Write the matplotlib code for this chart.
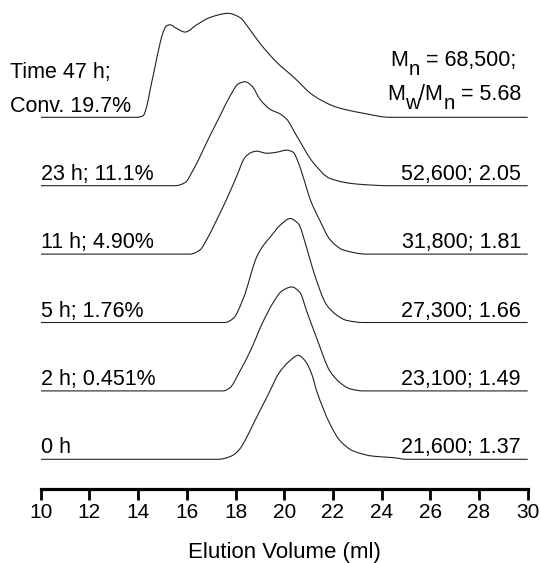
import matplotlib
matplotlib.use("Agg")
import matplotlib.pyplot as plt
import matplotlib.transforms as mtransforms
from matplotlib.path import Path
from matplotlib.patches import PathPatch
import numpy as np

plt.rcParams['font.family'] = ['Liberation Sans', 'DejaVu Sans']

# Elution volume (ml) and relative detector response (% of peak) for each trace
vol_0h = [10, 17.30, 17.57, 17.90, 18.18, 18.39, 18.73, 19.01, 19.42, 19.76, 20.24, 20.58, 20.85, 21.13, 21.33, 21.88, 22.29, 22.84, 23.66, 24.48, 25.03, 30]
sig_0h = [0, 0, 1, 4, 10, 18, 34, 47, 66, 82, 95, 100, 95, 82, 66, 34, 18, 8, 3, 1.6, 0, 0]

vol_2h = [10, 17.50, 17.77, 18.18, 18.60, 19.14, 19.55, 19.90, 20.31, 20.65, 20.92, 21.33, 21.88, 22.29, 22.70, 23.25, 30]
sig_2h = [0, 0, 3, 19, 38, 67, 85, 96, 100, 94.5, 77, 51, 19, 8, 2, 0, 0]

vol_5h = [10, 17.57, 17.91, 18.32, 18.87, 19.14, 19.42, 19.83, 20.24, 20.58, 20.92, 21.20, 21.74, 22.16, 22.57, 23.25, 30]
sig_5h = [0, 0, 4, 23, 63, 74, 82, 93.5, 100, 95, 72, 49.5, 17, 7, 2, 0, 0]

vol_11h = [10, 16.13, 16.54, 16.82, 17.23, 17.64, 18.05, 18.39, 18.67, 18.87, 19.28, 19.69, 20.10, 20.37, 20.58, 20.85, 21.06, 21.47, 21.88, 22.43, 23.39, 30]
sig_11h = [0, 0, 4, 14, 33, 53, 75, 93, 98, 99, 97, 98, 100, 98, 88, 69, 53, 32, 14, 4, 0, 0]

vol_23h = [10, 15.52, 15.93, 16.27, 16.95, 17.36, 17.77, 18.12, 18.39, 18.67, 19.01, 19.42, 19.83, 20.10, 20.51, 21.20, 21.88, 22.98, 24.34, 30]
sig_23h = [0, 0, 3, 15.5, 48, 67, 86, 98, 100, 96, 83, 73.5, 69, 64, 48, 22, 7, 1.6, 0, 0]

vol_47h = [10, 13.94, 14.21, 14.35, 14.49, 14.69, 14.90, 15.03, 15.17, 15.31, 15.58, 15.93, 16.41, 16.95, 17.70, 18.18, 18.60, 19.01, 19.69, 20.37, 21.20, 22.16, 23.25, 24.34, 30]
sig_47h = [0, 0, 1.6, 10, 26, 48, 71, 82, 88, 89, 85.5, 82, 89, 96, 100, 96, 84, 71, 53, 39, 21, 9.7, 3.9, 0, 0]

left_labels = ["0 h", "2 h; 0.451%", "5 h; 1.76%", "11 h; 4.90%", "23 h; 11.1%"]
right_labels = ["21,600; 1.37", "23,100; 1.49", "27,300; 1.66", "31,800; 1.81", "52,600; 2.05"]
top_left = ["Time 47 h;", "Conv. 19.7%"]
# (text, is_subscript) pieces
top_right_1 = [("M", False), ("n", True), (" = 68,500;", False)]
top_right_2 = [("M", False), ("w", True), ("/M", False), ("n", True), (" = 5.68", False)]

x_ticks = [10, 12, 14, 16, 18, 20, 22, 24, 26, 28, 30]
x_label = "Elution Volume (ml)"

traces = [(vol_0h, sig_0h), (vol_2h, sig_2h), (vol_5h, sig_5h),
          (vol_11h, sig_11h), (vol_23h, sig_23h), (vol_47h, sig_47h)]

W, H = 541, 563
fig = plt.figure(figsize=(W / 100, H / 100), dpi=100)
ax_bottom = 73.7 / H
ax = fig.add_axes([40.7 / W, ax_bottom, 487.0 / W, 1 - ax_bottom])
ax.set_xlim(10, 30)
ax.set_ylim(-0.4385, 6.715)


def pchip_slopes(x, y):
    x = np.asarray(x, float)
    y = np.asarray(y, float)
    h = np.diff(x)
    d = np.diff(y) / h
    m = np.zeros_like(y)
    for k in range(1, len(x) - 1):
        if d[k - 1] * d[k] > 0:
            w1 = 2 * h[k] + h[k - 1]
            w2 = h[k] + 2 * h[k - 1]
            m[k] = (w1 + w2) / (w1 / d[k - 1] + w2 / d[k])
    return m


def smooth_path(x, y):
    x = np.asarray(x, float)
    y = np.asarray(y, float)
    m = pchip_slopes(x, y)
    verts = [(x[0], y[0])]
    codes = [Path.MOVETO]
    for i in range(len(x) - 1):
        h = x[i + 1] - x[i]
        verts += [(x[i] + h / 3, y[i] + m[i] * h / 3),
                  (x[i + 1] - h / 3, y[i + 1] - m[i + 1] * h / 3),
                  (x[i + 1], y[i + 1])]
        codes += [Path.CURVE4] * 3
    return Path(verts, codes)


scale = 1.52 / 100.0
for i, (v, s) in enumerate(traces):
    yy = [i + val * scale for val in s]
    ax.add_patch(PathPatch(smooth_path(v, yy), fill=False, edgecolor='#222222',
                           lw=0.8, transform=ax.transData))

fs = 15.5
dy = 0.085
for i, (lt, rt) in enumerate(zip(left_labels, right_labels)):
    ax.text(10, i + dy, lt, ha='left', va='baseline', fontsize=fs)
    ax.text(29.72, i + dy, rt, ha='right', va='baseline', fontsize=fs)

ax.text(8.72, 5 + 0.57, top_left[0], ha='left', va='baseline', fontsize=fs)
ax.text(8.72, 5 + 0.073, top_left[1], ha='left', va='baseline', fontsize=fs)

renderer = fig.canvas.get_renderer()


def right_composite(x_right, y, pieces, size, sub_size, sub_drop_pts):
    texts = []
    widths = []
    for s, sub in pieces:
        t = ax.text(x_right, y, s, ha='left', va='baseline',
                    fontsize=sub_size if sub else size)
        widths.append(t.get_window_extent(renderer).width / fig.dpi)
        texts.append((t, sub))
    total = sum(widths)
    off = -total
    for (t, sub), w in zip(texts, widths):
        dyin = -sub_drop_pts / 72.0 if sub else 0.0
        t.set_transform(ax.transData + mtransforms.ScaledTranslation(off, dyin, fig.dpi_scale_trans))
        off += w


right_composite(29.52, 5 + 0.745, top_right_1, fs, fs * 0.95, 6.0)
right_composite(29.72, 5 + 0.25, top_right_2, fs, fs * 0.95, 6.0)

ax.set_xticks(x_ticks)
ax.set_xticklabels([str(t) for t in x_ticks])
ax.set_yticks([])
for sp in ['top', 'left', 'right']:
    ax.spines[sp].set_visible(False)
ax.spines['bottom'].set_linewidth(2.3)
ax.spines['bottom'].set_capstyle('projecting')
ax.tick_params(axis='x', direction='out', length=8, width=2.0, pad=2, labelsize=15)
ax.patch.set_alpha(0)

ax.set_xlabel(x_label, fontsize=16)
ax.xaxis.label.set_va('baseline')
ax.xaxis.set_label_coords(0.5, (5 - 73.7) / 489.3)

fig.savefig("out.png", dpi=100)
